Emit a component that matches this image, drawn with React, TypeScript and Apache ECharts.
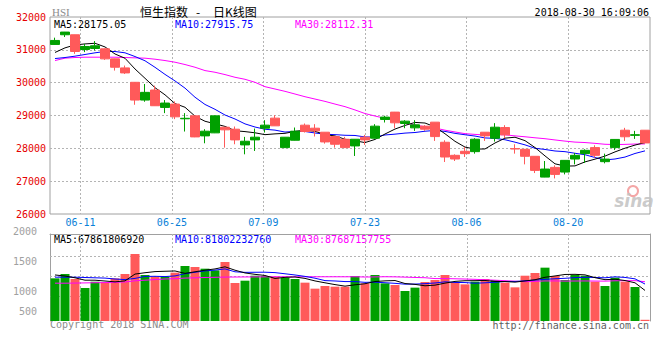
import React, { useEffect, useRef } from 'react';
import * as echarts from 'echarts';

// ---- data ----
const dates = [
  '06-06','06-07','06-08','06-11','06-12','06-13','06-14','06-15','06-19','06-20',
  '06-21','06-22','06-25','06-26','06-27','06-28','06-29','07-03','07-04','07-05',
  '07-06','07-09','07-10','07-11','07-12','07-13','07-16','07-17','07-18','07-19',
  '07-20','07-23','07-24','07-25','07-26','07-27','07-30','07-31','08-01','08-02',
  '08-03','08-06','08-07','08-08','08-09','08-10','08-13','08-14','08-15','08-16',
  '08-17','08-20','08-21','08-22','08-23','08-24','08-27','08-28','08-29','08-30',
];
const opens = [
  31164,31459,31459,31010,31041,31031,30725,30450,30011,29470,
  29776,29246,29348,28900,28990,28379,28471,28644,28583,28104,
  28257,28613,28920,28022,28246,28705,28614,28491,28358,28277,
  28073,28339,28308,28879,29103,28756,28624,28675,28797,28185,
  27787,27910,27899,28491,28308,28634,27990,27971,27757,27124,
  27420,27277,27675,27838,28022,27594,28022,28552,28395,28552,
];
const closes = [
  31286,31541,30949,31102,31123,30725,30470,30297,29470,29705,
  29297,29379,28960,28915,28348,28522,28990,28563,28257,28216,
  28339,28706,28685,28339,28522,28512,28532,28195,28124,28022,
  28277,28257,28675,28951,28777,28828,28716,28583,28358,27736,
  27675,27838,28277,28379,28644,28410,27981,27757,27328,27369,
  27206,27634,27787,27940,27787,27672,28271,28352,28416,28164,
];
const lows = [
  31160,31390,30878,30930,30980,30694,30368,30266,29327,29419,
  29290,29072,28890,28512,28340,28154,28465,28022,28124,27818,
  27920,28481,28680,28015,28240,28481,28360,28144,28022,28015,
  27767,28104,28300,28787,28613,28613,28532,28532,28226,27584,
  27614,27736,27838,28226,28206,28308,27838,27512,27247,27120,
  27084,27206,27512,27553,27716,27543,27950,28226,28287,28160,
];
const highs = [
  31370,31545,31462,31180,31266,31045,30730,30521,30020,29960,
  29909,29470,29430,29072,28995,28583,28995,28650,28665,28349,
  28603,28858,29011,28345,28634,28756,28736,28495,28362,28349,
  28280,28410,28736,28991,29108,28858,28858,28705,28800,28246,
  27818,28042,28308,28495,28767,28705,28124,27975,27760,27614,
  27482,27640,27859,27971,28093,27838,28275,28624,28532,28556,
];
const volumes = [
  1211,1283,1200,1050,1155,1145,1211,1283,1617,1267,
  1239,1239,1306,1417,1400,1372,1344,1483,1133,1172,
  1255,1250,1239,1222,1200,1139,1039,1083,1072,1072,
  1250,1128,1267,1128,1100,1000,1056,1150,1183,1267,
  1144,1111,1156,1200,1183,1139,1061,1255,1300,1389,
  1250,1183,1267,1255,1156,1083,1222,1156,1067,520,
];
// moving-average values before a full window exists
const ma5Lead = [30920, 31060, 31150, 31180];
const ma10Lead = [30735, 30766, 30807, 30858, 30909, 30949, 30949, 30909, 30796];
const ma30Lead = [
  30674,30746,30766,30776,30776,30776,30776,30766,30756,30746,
  30715,30674,30623,30552,30470,30368,30317,30246,30164,30103,
  30011,29878,29807,29736,29654,29572,29501,29430,29348,
];
const vma5Lead = [1267, 1250, 1220, 1180];
const vma10Lead = [1230, 1230, 1230, 1225, 1220, 1215, 1200, 1190, 1210];
const vma30Lead = [
  1130,1130,1132,1135,1138,1140,1143,1150,1170,1180,
  1190,1200,1205,1215,1220,1225,1228,1232,1233,1234,
  1235,1236,1237,1237,1237,1237,1237,1237,1237,
];
const tickIdx = [3, 12, 21, 31, 41, 51];
const priceTicks = { min: 26000, max: 32000, step: 1000 };
const volTicks = { min: 500, max: 2000, step: 500 };
const titleParts = ['恒生指数', '-', '日K线图'];
const symbolText = 'HSI';
const stampText = '2018-08-30 16:09:06';
const priceLegend = ['MA5:28175.05', 'MA10:27915.75', 'MA30:28112.31'];
const volLegend = ['MA5:67861806920', 'MA10:81802232760', 'MA30:87687157755'];
const copyText = 'Copyright 2018 SINA.COM';
const urlText = 'http://finance.sina.com.cn';

const RED = '#ff5a5a';
const GREEN = '#00a000';
const MONO = '"DejaVu Sans Mono", monospace';

function movingAvg(vals: number[], n: number, lead: number[]) {
  return vals.map((_, i) => {
    if (i < n - 1) return lead[i];
    let s = 0;
    for (let k = i - n + 1; k <= i; k++) s += vals[k];
    return +(s / n).toFixed(2);
  });
}

export default function App() {
  const ref = useRef<HTMLDivElement>(null);
  useEffect(() => {
    if (!ref.current) return;
    const chart = echarts.init(ref.current, undefined, { renderer: 'svg' });
    const dotted = { color: '#b4b4b4', width: 1, type: [2, 2] as any };
    const candle = dates.map((_, i) => [opens[i], closes[i], lows[i], highs[i]]);
    const volData = volumes.map((v, i) => ({
      value: v,
      itemStyle: { color: closes[i] > opens[i] ? GREEN : closes[i] < opens[i] ? RED : GREEN },
    }));
    const ma5 = movingAvg(closes, 5, ma5Lead);
    const ma10 = movingAvg(closes, 10, ma10Lead);
    const ma30 = movingAvg(closes, 30, ma30Lead);
    const vma5 = movingAvg(volumes, 5, vma5Lead);
    const vma10 = movingAvg(volumes, 10, vma10Lead);
    const vma30 = movingAvg(volumes, 30, vma30Lead);
    const xMax = 59.06;
    const volMin = 500;
    const volMax = 1950;
    const volGridLevels = [1588, 1255, 922];
    const plain = (v: number) => String(v);

    // layout of the panes
    const L = 50, W = 600;
    const VT = 234, VH = 87;

    const lineSeries = (name: string, data: number[], color: string, xi: number, yi: number, z = 2) => ({
      name, type: 'line', data, xAxisIndex: xi, yAxisIndex: yi, z,
      symbol: 'none', showSymbol: false, silent: true,
      lineStyle: { width: 1, color }, itemStyle: { color },
    });

    const txt = (text: string, x: number, y: number, fill: string, font: string, align = 'left', va = 'middle', extra: any = {}) => ({
      type: 'text', x, y, silent: true, z: 100,
      style: { text, fill, font, textAlign: align, textVerticalAlign: va, ...extra },
    });

    // dotted guides of the volume pane (same scale as the axes: x over [0, xMax], y over [volMin, volMax])
    const gx = (v: number) => Math.round(L + (v / xMax) * W) + 0.5;
    const gy = (v: number) => Math.round(VT + VH - ((v - volMin) / (volMax - volMin)) * VH) + 0.5;
    const guideStyle = { stroke: '#b4b4b4', lineWidth: 1, lineDash: [2, 2], fill: null };
    const guides: any[] = [
      ...tickIdx.map((v) => ({ type: 'line', silent: true, z: 200,
        shape: { x1: gx(v), y1: VT, x2: gx(v), y2: VT + VH }, style: guideStyle })),
      ...volGridLevels.map((lv) => ({ type: 'line', silent: true, z: 200,
        shape: { x1: L, y1: gy(lv), x2: L + W, y2: gy(lv) }, style: guideStyle })),
    ];

    const graphics: any[] = [
      txt(symbolText, 52, 12, '#8c8c8c', '11px "Liberation Serif"'),
      txt(titleParts[0], 140, 11, '#000', '12px "Noto Sans CJK SC"'),
      txt(titleParts[1], 198, 11, '#000', '12px "Noto Sans CJK SC"', 'center'),
      txt(titleParts[2], 213, 11, '#000', '12px "Noto Sans CJK SC"'),
      txt(stampText, 649, 12, '#000', '10px ' + MONO, 'right'),
      txt(priceLegend[0], 54, 24, '#000', '10px ' + MONO),
      txt(priceLegend[1], 175, 24, '#0000ff', '10px ' + MONO),
      txt(priceLegend[2], 295, 24, '#ff00ff', '10px ' + MONO),
      txt(volLegend[0], 54, 239, '#000', '10px ' + MONO),
      txt(volLegend[1], 175, 239, '#0000ff', '10px ' + MONO),
      txt(volLegend[2], 295, 239, '#ff00ff', '10px ' + MONO),
      txt(copyText, 50, 324, '#8c8c8c', '10px ' + MONO),
      txt(urlText, 649, 325, '#606060', '10px ' + MONO, 'right'),
      { type: 'circle', silent: true, z: 90, shape: { cx: 633, cy: 191, r: 5 },
        style: { fill: 'none', stroke: '#f4a6a6', lineWidth: 2 } },
      txt('sina', 634, 201, '#c4c4c4', 'italic bold 17px "DejaVu Sans"', 'center', 'middle', { opacity: 0.9 }),
      ...guides,
    ];

    const option: any = {
      animation: false,
      backgroundColor: '#ffffff',
      textStyle: { fontFamily: MONO },
      grid: [
        { left: L, top: 17, width: W, height: 197, show: true, borderColor: '#a0a0a0', borderWidth: 1, backgroundColor: 'transparent' },
        { left: L, top: VT, width: W, height: VH },
        { left: L, top: 231, width: W, height: 90 },
      ],
      xAxis: [
        { type: 'category', gridIndex: 0, data: dates, boundaryGap: true,
          axisLine: { show: false }, axisTick: { show: false }, axisLabel: { show: false }, splitLine: { show: false } },
        { type: 'value', gridIndex: 0, min: 0, max: xMax, position: 'bottom',
          axisLine: { show: false },
          axisTick: { show: false, customValues: tickIdx },
          axisLabel: { show: true, customValues: tickIdx, formatter: (v: number) => dates[Math.round(v)] || '',
            color: '#0a7fd8', fontFamily: MONO, fontSize: 10, margin: 3 },
          splitLine: { show: true, lineStyle: dotted } },
        { type: 'category', gridIndex: 1, data: dates, boundaryGap: true, position: 'top',
          axisLine: { show: true, onZero: false, lineStyle: { color: '#a0a0a0' } },
          axisTick: { show: false }, axisLabel: { show: false }, splitLine: { show: false } },
        { type: 'category', gridIndex: 2, data: dates, show: false },
      ],
      yAxis: [
        { type: 'value', gridIndex: 0, min: priceTicks.min, max: priceTicks.max, interval: priceTicks.step,
          axisLine: { show: false }, axisTick: { show: false },
          axisLabel: { color: '#e60000', fontFamily: MONO, fontSize: 10, margin: 4, formatter: plain },
          splitLine: { show: true, showMinLine: false, showMaxLine: false, lineStyle: dotted } },
        { type: 'value', gridIndex: 1, min: volMin, max: volMax,
          axisLine: { show: true, onZero: false, lineStyle: { color: '#a0a0a0' } },
          axisTick: { show: false }, axisLabel: { show: false }, splitLine: { show: false } },
        { type: 'value', gridIndex: 1, min: volMin, max: volMax, position: 'right',
          axisLine: { show: true, onZero: false, lineStyle: { color: '#a0a0a0' } },
          axisTick: { show: false }, axisLabel: { show: false }, splitLine: { show: false } },
        { type: 'value', gridIndex: 2, min: volTicks.min, max: volTicks.max, interval: volTicks.step,
          axisLine: { show: false }, axisTick: { show: false },
          axisLabel: { color: '#a0a0a0', fontFamily: MONO, fontSize: 10, margin: 13,
            formatter: (v: number) => (v === volTicks.min ? '{lift|' + v + '}' : String(v)),
            rich: { lift: { padding: [0, 0, 20, 0], color: '#a0a0a0', fontFamily: MONO, fontSize: 10 } } },
          splitLine: { show: false } },
      ],
      series: [
        { name: 'K', type: 'candlestick', data: candle, xAxisIndex: 0, yAxisIndex: 0, barWidth: 9, silent: true,
          itemStyle: { color: GREEN, color0: RED, borderColor: GREEN, borderColor0: RED, borderWidth: 1 } },
        lineSeries('MA30', ma30, '#ff00ff', 0, 0),
        lineSeries('MA10', ma10, '#0000ff', 0, 0),
        lineSeries('MA5', ma5, '#000000', 0, 0),
        { name: 'VOL', type: 'bar', data: volData, xAxisIndex: 2, yAxisIndex: 1, barWidth: 9, silent: true, z: 201 },
        lineSeries('VMA30', vma30, '#ff00ff', 2, 1, 202),
        lineSeries('VMA10', vma10, '#0000ff', 2, 1, 202),
        lineSeries('VMA5', vma5, '#000000', 2, 1, 202),
      ],
      graphic: graphics,
    };
    chart.setOption(option);
    return () => chart.dispose();
  }, []);
  return <div ref={ref} style={{ position: 'absolute', left: 0, top: 0, width: 660, height: 360 }} />;
}
